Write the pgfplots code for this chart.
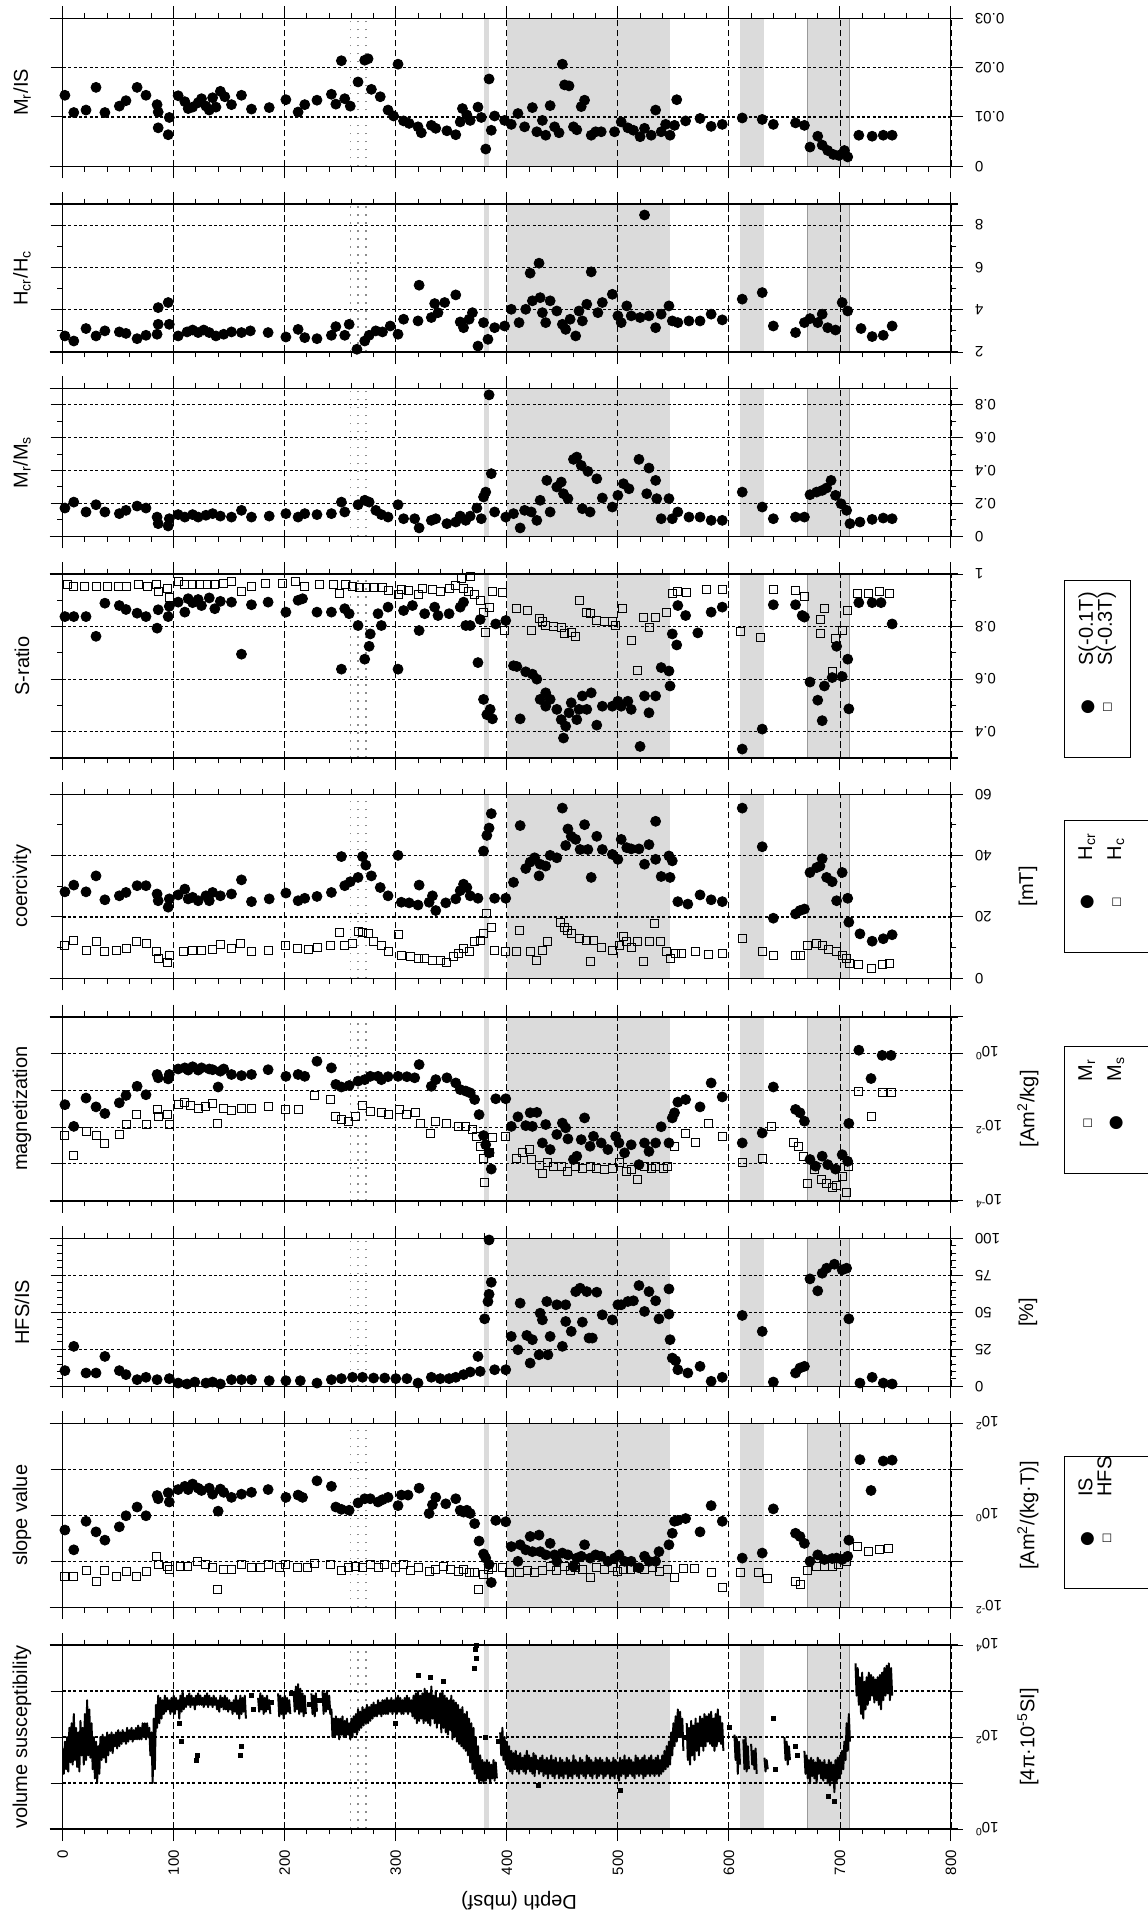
\documentclass[border=0pt]{standalone}
\usepackage{fontspec}
\setmainfont{Liberation Sans}
\newfontfamily\dejavu{DejaVu Sans}
\usepackage{pgfplots}
\pgfplotsset{compat=1.18}

\newcommand\tickfont{\fontsize{7.5}{9}\selectfont}
\newcommand\labfont{\fontsize{10}{12}\selectfont}
\colorlet{bandc}{black!14}

% legend keys, written as glyphs
\newcommand\dotglyph{\raisebox{0.3pt}{\dejavu\fontsize{8.5}{8.5}\selectfont ●}}
\newcommand\boxglyph{\raisebox{0.8pt}{\dejavu\fontsize{5.5}{5.5}\selectfont □}}
\newcommand\legline[2]{\hspace*{25pt}\makebox[0pt]{#1}\hspace*{21pt}#2\hspace*{6pt}}

% shaded depth intervals and dotted marker lines (x in rel axis units, depth/800)
\newcommand\bands{%
  \fill[bandc] (rel axis cs:0.47375,0) rectangle (rel axis cs:0.48,1);
  \fill[bandc] (rel axis cs:0.5,0) rectangle (rel axis cs:0.68375,1);
  \fill[bandc] (rel axis cs:0.7625,0) rectangle (rel axis cs:0.79,1);
  \filldraw[fill=bandc, draw=black!40, line width=0.5pt] (rel axis cs:0.83875,0) rectangle (rel axis cs:0.88625,1);
  \draw[black!45, line width=0.7pt, dash pattern=on 0.8pt off 3.2pt] (rel axis cs:0.32375,0) -- (rel axis cs:0.32375,1);
  \draw[black!45, line width=0.7pt, dash pattern=on 0.8pt off 3.2pt] (rel axis cs:0.3325,0) -- (rel axis cs:0.3325,1);
  \draw[black!45, line width=0.7pt, dash pattern=on 0.8pt off 3.2pt] (rel axis cs:0.34125,0) -- (rel axis cs:0.34125,1);
}

\tikzset{legbox/.style={draw, line width=0.5pt, rotate=90, anchor=north west, align=left,
  inner xsep=0pt, inner ysep=7pt, font=\fontsize{10}{9.5}\selectfont}}

\pgfplotsset{
  panel/.style={
    scale only axis, width=444.15pt, xmin=0, xmax=800,
    anchor=north west, axis on top, clip mode=individual,
    scaled y ticks=false, scaled x ticks=false,
    xtick={0,100,...,800}, minor x tick num=4, xticklabels={},
    xtick pos=both, yticklabel pos=right, ytick pos=both,
    tick align=outside, major tick length=6pt, minor tick length=2.7pt,
    tick style={black, line width=0.5pt},
    axis line style={line width=0.5pt},
    xmajorgrids, ymajorgrids,
    major x grid style={black, line width=0.45pt, dash pattern=on 3.3pt off 1.7pt},
    major y grid style={black, line width=0.55pt, dash pattern=on 1.5pt off 1.2pt},
    yticklabel style={font=\tickfont, rotate=180, anchor=east},
    yticklabel shift=2.5pt,
    every axis y label/.style={at={(axis description cs:-0.0458,0.5)}, rotate=90, anchor=center, font=\labfont},
    after end axis/.code={
      \draw[line width=0.8pt] (rel axis cs:-0.0146,0) -- (rel axis cs:1.008,0);
      \draw[line width=0.8pt] (rel axis cs:-0.0146,1) -- (rel axis cs:1.008,1);
    },
  },
  small/.style={height=74pt},
  big/.style={height=92pt},
  dots/.style={only marks, mark=*, mark size=2.5pt, black},
  boxes/.style={only marks, mark=square, mark size=2pt, black, mark options={line width=0.45pt}},
}

\begin{document}
\begin{tikzpicture}
\useasboundingbox (-31.35pt,0pt) rectangle (542.15pt,-958.5pt);

% ---------------- M_r/IS
\begin{axis}[panel, small, at={(0pt,-9.15pt)},
  ymin=0, ymax=0.03, ytick={0,0.01,0.02,0.03}, yticklabels={0,0.01,0.02,0.03},
  ylabel={M\textsubscript{r}/IS}]
\bands
\addplot[dots] coordinates {(2,0.0144)(10,0.0109)(21,0.0114)(30,0.016)(38,0.0109)(51,0.0122)(57,0.0133)(67,0.016)(75,0.0144)(85,0.0125)(86,0.011)(86,0.0078)(95,0.0064)(96,0.0099)(104,0.0143)(110,0.0131)(113,0.0117)(117,0.012)(122,0.0129)(125,0.0137)(129,0.0122)(132,0.0114)(135,0.0139)(138,0.012)(142,0.0152)(146,0.0141)(152,0.0125)(161,0.0144)(170,0.0116)(186,0.0119)(201,0.0135)(212,0.011)(218,0.0125)(229,0.0134)(242,0.0146)(246,0.0126)(251,0.0214)(254,0.0137)(259,0.0122)(266,0.0171)(272,0.0215)(275,0.0218)(278,0.0156)(286,0.0141)(293,0.0114)(298,0.0102)(302,0.0207)(307,0.0092)(312,0.0087)(320,0.008)(323,0.0068)(332,0.0083)(336,0.0077)(346,0.0072)(354,0.0064)(358,0.009)(360,0.0117)(364,0.0104)(367,0.0093)(374,0.012)(377,0.0099)(381,0.0035)(384,0.0177)(386,0.0073)(389,0.0102)(398,0.0093)(404,0.0085)(410,0.0107)(416,0.008)(423,0.0119)(427,0.007)(432,0.0093)(435,0.0063)(439,0.0123)(443,0.008)(447,0.0068)(450,0.0207)(452,0.0165)(456,0.0163)(460,0.008)(463,0.0074)(467,0.0121)(470,0.0134)(476,0.0063)(480,0.007)(485,0.007)(497,0.007)(503,0.009)(509,0.0078)(514,0.0073)(520,0.006)(524,0.0077)(530,0.0063)(534,0.0114)(539,0.007)(543,0.0085)(547,0.0063)(551,0.0083)(553,0.0135)(561,0.0092)(574,0.0097)(584,0.0081)(594,0.0085)(612,0.0098)(630,0.0095)(640,0.0085)(660,0.0088)(668,0.0083)(673,0.0039)(680,0.0061)(684,0.0043)(689,0.0032)(694,0.0024)(699,0.0022)(704,0.0032)(707,0.0019)(717,0.0063)(729,0.0061)(739,0.0063)(747,0.0063)};
\end{axis}

% ---------------- H_cr/H_c
\begin{axis}[panel, small, at={(0pt,-102pt)},
  ymin=2, ymax=9, ytick={2,4,6,8}, yticklabels={2,4,6,8}, minor ytick={3,5,7,9},
  ylabel={H\textsubscript{cr}/H\textsubscript{c}}]
\bands
\addplot[dots] coordinates {(2,2.76)(10,2.52)(21,3.11)(30,2.76)(38,3.0)(51,2.95)(57,2.88)(67,2.63)(75,2.79)(85,2.84)(86,3.31)(86,4.1)(95,4.34)(96,3.31)(104,2.76)(112,2.95)(117,3.04)(122,2.92)(127,3.04)(132,2.92)(138,2.76)(145,2.84)(152,2.95)(161,2.92)(169,3.0)(185,2.92)(201,2.71)(212,3.07)(218,2.68)(229,2.63)(242,2.79)(246,3.2)(254,2.79)(258,3.31)(265,2.13)(272,2.52)(276,2.79)(282,3.0)(288,2.95)(295,3.23)(302,2.84)(307,3.55)(320,3.47)(321,5.16)(332,3.63)(335,4.29)(338,3.86)(344,4.34)(354,4.7)(358,3.42)(361,3.15)(366,3.55)(369,3.86)(374,2.28)(379,3.39)(383,2.6)(389,3.15)(398,3.23)(404,4.02)(411,3.39)(417,4.02)(421,5.73)(423,4.42)(429,6.2)(430,4.57)(432,3.86)(435,3.39)(439,4.42)(445,3.94)(450,3.31)(453,3.07)(457,3.55)(462,2.76)(465,3.94)(468,3.47)(472,4.26)(476,5.79)(482,3.86)(486,4.34)(495,4.73)(500,3.71)(503,3.39)(508,4.18)(512,3.71)(520,3.63)(524,8.48)(528,3.71)(534,3.15)(539,3.79)(546,4.18)(549,3.47)(554,3.39)(564,3.47)(574,3.47)(584,3.79)(594,3.52)(612,4.5)(630,4.81)(640,3.23)(660,2.92)(668,3.39)(673,3.58)(680,3.39)(684,3.79)(689,3.15)(696,3.04)(702,4.34)(707,3.94)(719,3.11)(729,2.73)(739,2.79)(747,3.23)};
\end{axis}

% ---------------- M_r/M_s
\begin{axis}[panel, small, at={(0pt,-194.15pt)},
  ymin=0, ymax=0.9, ytick={0,0.2,0.4,0.6,0.8}, yticklabels={0,0.2,0.4,0.6,0.8},
  minor ytick={0.1,0.3,0.5,0.7,0.9},
  ylabel={M\textsubscript{r}/M\textsubscript{s}}]
\bands
\addplot[dots] coordinates {(2,0.172)(10,0.208)(21,0.148)(30,0.192)(38,0.148)(51,0.138)(57,0.158)(67,0.184)(75,0.172)(85,0.117)(86,0.077)(95,0.063)(96,0.107)(104,0.132)(110,0.117)(117,0.132)(122,0.117)(129,0.128)(135,0.138)(142,0.123)(152,0.117)(161,0.158)(170,0.117)(186,0.123)(201,0.138)(212,0.117)(218,0.138)(229,0.132)(242,0.138)(251,0.208)(254,0.148)(266,0.192)(272,0.219)(276,0.208)(282,0.158)(287,0.132)(293,0.117)(302,0.192)(307,0.107)(317,0.107)(321,0.051)(332,0.097)(336,0.107)(346,0.077)(354,0.087)(358,0.123)(363,0.097)(367,0.123)(373,0.172)(377,0.107)(379,0.239)(381,0.269)(384,0.86)(386,0.381)(389,0.148)(399,0.117)(406,0.138)(412,0.051)(416,0.158)(422,0.148)(427,0.097)(430,0.219)(436,0.34)(439,0.148)(445,0.3)(449,0.33)(451,0.259)(455,0.229)(460,0.468)(463,0.482)(467,0.431)(468,0.168)(473,0.395)(475,0.148)(481,0.35)(486,0.233)(495,0.178)(500,0.249)(505,0.32)(510,0.289)(519,0.468)(528,0.415)(526,0.259)(534,0.34)(535,0.229)(539,0.107)(546,0.229)(549,0.107)(554,0.148)(564,0.117)(574,0.117)(584,0.097)(594,0.097)(612,0.269)(630,0.178)(640,0.107)(660,0.117)(668,0.117)(673,0.253)(679,0.269)(684,0.279)(688,0.294)(692,0.34)(696,0.249)(701,0.198)(706,0.158)(709,0.077)(718,0.087)(729,0.103)(739,0.111)(747,0.107)};
\end{axis}

% ---------------- S-ratio
\begin{axis}[panel, big, at={(0pt,-287pt)},
  ymin=0.3, ymax=1, ytick={0.4,0.6,0.8,1}, yticklabels={0.4,0.6,0.8,1},
  minor ytick={0.3,0.5,0.7,0.9},
  ylabel={S-ratio}]
\bands
\node[legbox] at (rel axis cs:1.1272,0) {\legline{\dotglyph}{S(-0.1T)}\\ \legline{\boxglyph}{S(-0.3T)}};
\addplot[dots] coordinates {(2,0.838)(10,0.838)(21,0.838)(30,0.763)(38,0.889)(51,0.88)(57,0.865)(67,0.851)(75,0.838)(85,0.794)(86,0.864)(95,0.838)(96,0.877)(104,0.893)(110,0.855)(113,0.906)(117,0.891)(122,0.903)(125,0.88)(132,0.909)(137,0.868)(142,0.896)(152,0.893)(161,0.695)(170,0.883)(185,0.893)(201,0.855)(212,0.9)(216,0.906)(229,0.855)(242,0.855)(251,0.638)(254,0.868)(258,0.849)(266,0.804)(272,0.676)(276,0.725)(277,0.772)(284,0.849)(287,0.804)(293,0.874)(302,0.638)(307,0.861)(315,0.88)(321,0.785)(326,0.849)(335,0.874)(338,0.842)(348,0.849)(358,0.874)(361,0.893)(363,0.804)(367,0.804)(374,0.663)(376,0.827)(379,0.523)(382,0.465)(385,0.485)(387,0.449)(390,0.81)(399,0.823)(406,0.651)(409,0.648)(412,0.449)(417,0.628)(423,0.619)(427,0.6)(430,0.523)(435,0.548)(435,0.497)(439,0.523)(445,0.485)(449,0.446)(451,0.376)(453,0.421)(456,0.472)(458,0.51)(463,0.446)(465,0.485)(468,0.536)(472,0.485)(476,0.548)(481,0.425)(486,0.497)(495,0.497)(500,0.516)(503,0.497)(509,0.516)(512,0.485)(520,0.344)(524,0.536)(528,0.472)(534,0.536)(539,0.644)(546,0.631)(547,0.574)(549,0.772)(553,0.73)(554,0.88)(561,0.842)(572,0.776)(584,0.855)(594,0.874)(612,0.334)(630,0.41)(640,0.883)(660,0.883)(666,0.842)(668,0.836)(673,0.589)(680,0.52)(684,0.442)(686,0.574)(693,0.606)(697,0.725)(702,0.61)(707,0.676)(708,0.487)(717,0.891)(729,0.891)(737,0.891)(747,0.81)};
\addplot[boxes] coordinates {(4,0.96)(10,0.953)(20,0.951)(30,0.951)(40,0.953)(50,0.951)(57,0.953)(68,0.96)(76,0.953)(84,0.96)(86,0.932)(94,0.944)(96,0.912)(104,0.97)(110,0.96)(117,0.96)(123,0.96)(130,0.96)(137,0.96)(145,0.963)(152,0.97)(161,0.932)(170,0.951)(183,0.963)(198,0.963)(210,0.97)(218,0.953)(231,0.96)(244,0.96)(249,0.925)(255,0.96)(261,0.951)(267,0.948)(274,0.948)(280,0.948)(288,0.948)(293,0.938)(302,0.921)(305,0.942)(311,0.938)(320,0.921)(324,0.944)(333,0.942)(340,0.932)(348,0.944)(354,0.957)(359,0.983)(361,0.944)(365,0.932)(367,0.989)(371,0.921)(376,0.9)(379,0.855)(381,0.776)(384,0.874)(387,0.932)(396,0.929)(398,0.785)(409,0.868)(419,0.861)(422,0.785)(429,0.832)(432,0.819)(435,0.804)(442,0.8)(449,0.797)(452,0.772)(458,0.778)(462,0.763)(465,0.9)(472,0.855)(475,0.849)(481,0.823)(488,0.819)(495,0.819)(498,0.804)(504,0.868)(512,0.746)(518,0.635)(523,0.836)(528,0.797)(534,0.836)(544,0.855)(549,0.925)(554,0.932)(562,0.928)(580,0.942)(594,0.942)(610,0.781)(628,0.759)(640,0.942)(660,0.938)(668,0.916)(682,0.829)(686,0.868)(682,0.772)(693,0.628)(696,0.753)(702,0.785)(707,0.861)(716,0.925)(726,0.925)(736,0.932)(745,0.925)};
\end{axis}

% ---------------- coercivity
\begin{axis}[panel, big, at={(0pt,-397.15pt)},
  ymin=0, ymax=60, ytick={0,20,40,60}, yticklabels={0,20,40,60}, minor ytick={10,30,50},
  ylabel={coercivity}]
\bands
\node[rotate=90, font=\labfont] at (rel axis cs:1.0867,0.5) {[mT]};
\node[legbox] at (rel axis cs:1.1272,0.14) {\legline{\dotglyph}{H\textsubscript{cr}}\\[5pt] \legline{\boxglyph}{H\textsubscript{c}}\\[2pt] \mbox{}};
\addplot[dots] coordinates {(2,28.2)(10,30.4)(21,28.2)(30,33.4)(38,25.6)(51,26.9)(57,28.0)(67,30.2)(75,30.2)(85,27.5)(86,25.3)(95,23.2)(96,25.9)(104,27.2)(110,29.1)(113,25.9)(117,26.4)(122,25.3)(129,26.9)(132,25.3)(135,28.0)(142,26.9)(152,27.5)(161,32.1)(170,25.0)(186,25.9)(201,27.8)(212,25.3)(218,26.1)(229,26.7)(242,28.0)(251,39.7)(254,30.2)(259,31.5)(266,32.9)(270,39.7)(273,36.9)(278,33.4)(286,29.6)(293,26.9)(302,40.1)(305,24.8)(312,24.6)(320,23.9)(321,30.4)(330,24.8)(333,26.9)(336,22.1)(345,24.6)(354,25.9)(358,28.6)(361,30.7)(364,29.6)(367,26.9)(374,26.1)(379,41.5)(382,46.6)(384,49.0)(386,53.7)(389,26.1)(399,26.1)(406,31.3)(412,49.8)(417,35.8)(421,37.9)(425,39.3)(429,33.4)(430,37.2)(435,36.6)(439,40.1)(445,39.3)(450,55.5)(453,43.3)(455,48.7)(458,46.3)(462,45.3)(466,42.0)(470,50.1)(473,42.0)(476,32.9)(481,46.3)(486,42.0)(495,40.4)(500,38.8)(503,45.3)(508,42.6)(512,42.2)(519,42.2)(524,37.2)(528,43.6)(534,51.2)(534,38.8)(539,33.2)(546,39.9)(549,38.3)(547,32.9)(554,25.0)(563,24.2)(574,27.2)(584,25.6)(594,25.0)(612,55.5)(630,42.9)(640,19.6)(660,21.0)(664,22.1)(668,22.6)(673,34.5)(679,36.1)(684,39.0)(682,36.6)(688,32.9)(693,31.5)(697,25.3)(702,34.5)(707,26.1)(708,18.3)(718,14.5)(729,12.1)(739,12.9)(747,14.2)};
\addplot[boxes] coordinates {(2,10.8)(10,12.4)(21,9.2)(30,12.1)(38,8.8)(48,9.2)(57,9.9)(66,11.9)(75,11.3)(84,8.8)(86,6.5)(94,5.2)(96,7.5)(109,8.8)(117,9.2)(125,9.2)(135,9.5)(142,11.0)(152,9.9)(160,11.3)(170,8.8)(185,9.2)(201,10.6)(211,9.9)(221,9.5)(229,10.2)(241,10.8)(249,14.8)(254,10.6)(261,11.3)(266,15.3)(270,15.1)(275,14.5)(280,11.9)(287,10.6)(293,8.8)(302,14.2)(305,7.3)(313,7.0)(320,6.5)(326,6.5)(333,5.9)(340,5.9)(346,5.2)(352,7.0)(356,8.1)(361,9.7)(366,8.6)(371,11.9)(376,12.4)(379,14.5)(382,21.0)(386,16.7)(389,9.2)(399,8.8)(409,8.8)(411,15.6)(421,8.8)(427,5.9)(432,9.2)(437,11.9)(448,18.3)(452,16.7)(455,15.6)(458,14.5)(465,12.9)(472,12.4)(475,5.4)(478,12.4)(485,10.2)(495,9.2)(501,10.8)(505,13.5)(508,11.9)(512,10.2)(518,11.9)(523,5.4)(528,11.9)(533,17.8)(538,11.9)(544,8.8)(547,6.5)(552,8.1)(557,8.1)(570,8.8)(582,7.8)(594,8.1)(612,12.9)(630,8.6)(640,7.5)(660,7.5)(664,7.3)(671,10.6)(679,11.3)(684,10.8)(690,9.5)(697,8.8)(702,7.5)(706,6.5)(709,4.8)(717,4.5)(728,3.2)(738,4.5)(745,4.8)};
\end{axis}

% ---------------- magnetization (log10 values)
\begin{axis}[panel, big, at={(0pt,-508.35pt)},
  ymin=-4, ymax=1, ytick={-4,-3,-2,-1,0,1},
  yticklabels={10\textsuperscript{-4},,10\textsuperscript{-2},,10\textsuperscript{0},},
  ylabel={magnetization}]
\bands
\node[rotate=90, font=\labfont] at (rel axis cs:1.0867,0.5) {[Am\textsuperscript{2}/kg]};
\node[legbox] at (rel axis cs:1.1272,0.1465) {\legline{\boxglyph}{M\textsubscript{r}}\\[5pt] \legline{\dotglyph}{M\textsubscript{s}}\\[2pt] \mbox{}};
\addplot[boxes] coordinates {(2,-2.22)(10,-2.77)(21,-2.11)(30,-2.23)(38,-2.45)(51,-2.2)(57,-1.93)(66,-1.66)(75,-1.93)(85,-1.52)(86,-1.7)(94,-1.66)(96,-1.93)(104,-1.39)(110,-1.34)(115,-1.41)(122,-1.48)(129,-1.43)(135,-1.36)(139,-1.89)(145,-1.48)(152,-1.54)(161,-1.48)(170,-1.48)(185,-1.45)(201,-1.52)(212,-1.52)(227,-1.14)(241,-1.25)(246,-1.7)(251,-1.79)(257,-1.84)(264,-1.7)(270,-1.41)(277,-1.57)(287,-1.61)(293,-1.66)(303,-1.52)(310,-1.66)(318,-1.61)(322,-1.89)(331,-2.16)(336,-1.84)(346,-1.89)(356,-1.98)(363,-1.98)(369,-2.07)(373,-2.25)(376,-2.52)(379,-2.86)(380,-3.5)(384,-2.7)(387,-2.29)(399,-2.25)(409,-2.86)(414,-2.7)(420,-2.61)(422,-2.88)(429,-3.05)(432,-3.25)(437,-2.96)(442,-3.06)(449,-3.06)(455,-3.2)(462,-3.06)(468,-3.11)(475,-3.08)(481,-3.11)(488,-3.15)(495,-3.11)(501,-2.97)(508,-3.2)(512,-3.14)(518,-3.43)(524,-3.06)(530,-3.11)(534,-3.06)(541,-3.11)(545,-3.06)(551,-2.52)(561,-2.18)(570,-2.43)(582,-1.9)(594,-2.25)(612,-2.97)(630,-2.86)(638,-1.98)(658,-2.43)(663,-2.52)(667,-2.79)(671,-3.52)(677,-3.15)(683,-3.43)(688,-3.52)(693,-3.65)(697,-3.59)(702,-3.34)(706,-3.77)(708,-3.06)(717,-1.02)(728,-1.7)(738,-1.07)(746,-1.07)};
\addplot[dots] coordinates {(2,-1.39)(10,-1.98)(21,-1.21)(30,-1.45)(38,-1.63)(51,-1.34)(57,-1.14)(67,-0.89)(75,-1.12)(85,-0.57)(86,-0.66)(95,-0.69)(96,-0.57)(104,-0.42)(110,-0.39)(113,-0.45)(117,-0.36)(122,-0.45)(125,-0.39)(132,-0.42)(135,-0.44)(140,-0.91)(142,-0.48)(145,-0.42)(152,-0.57)(161,-0.6)(170,-0.57)(185,-0.44)(201,-0.62)(212,-0.57)(218,-0.62)(229,-0.21)(242,-0.39)(246,-0.84)(251,-0.91)(258,-0.87)(266,-0.75)(272,-0.71)(277,-0.62)(284,-0.62)(287,-0.71)(293,-0.63)(302,-0.62)(310,-0.63)(317,-0.66)(321,-0.3)(332,-0.89)(336,-0.71)(346,-0.66)(354,-0.8)(358,-0.98)(363,-1.02)(367,-1.07)(371,-1.25)(375,-1.66)(379,-2.23)(381,-2.48)(384,-2.7)(386,-3.14)(390,-1.23)(399,-1.23)(404,-1.98)(410,-1.72)(417,-1.96)(421,-1.61)(423,-1.98)(427,-1.6)(432,-2.43)(435,-1.93)(439,-2.61)(445,-2.2)(450,-1.89)(453,-2.02)(455,-2.32)(460,-2.88)(463,-2.79)(467,-2.34)(470,-1.75)(475,-2.52)(478,-2.25)(485,-2.43)(491,-2.61)(498,-2.25)(501,-2.43)(506,-2.7)(512,-2.48)(519,-3.02)(524,-2.43)(528,-2.66)(534,-2.43)(539,-1.99)(546,-2.43)(549,-1.75)(551,-1.61)(554,-1.32)(561,-1.25)(574,-1.45)(584,-0.8)(594,-1.18)(612,-2.43)(630,-2.16)(640,-0.91)(660,-1.52)(664,-1.61)(668,-1.84)(673,-2.88)(678,-3.06)(684,-2.79)(689,-3.02)(696,-3.14)(702,-2.75)(707,-2.93)(708,-1.9)(717,0.09)(728,-0.68)(738,-0.05)(746,-0.05)};
\end{axis}

% ---------------- HFS/IS
\begin{axis}[panel, small, at={(0pt,-619.15pt)},
  ymin=0, ymax=100, ytick={0,25,50,75,100}, yticklabels={0,25,50,75,100},
  minor ytick={5,10,15,20,30,35,40,45,55,60,65,70,80,85,90,95},
  ylabel={HFS/IS}]
\bands
\node[rotate=90, font=\labfont] at (rel axis cs:1.0867,0.5) {[\%]};
\addplot[dots] coordinates {(2,10.6)(10,27.0)(21,9.0)(30,9.0)(38,20.2)(51,10.6)(57,7.9)(67,4.5)(75,6.1)(85,4.5)(96,5.2)(104,2.2)(112,1.6)(119,2.9)(129,2.2)(135,2.9)(142,1.6)(152,4.5)(161,4.5)(170,4.5)(186,3.8)(201,3.8)(214,3.8)(229,2.2)(242,4.5)(251,5.2)(261,6.1)(270,6.1)(280,5.6)(290,5.6)(300,5.2)(310,5.2)(320,2.2)(332,6.1)(340,5.2)(348,5.2)(354,6.1)(361,7.9)(367,9.7)(374,20.2)(376,10.1)(380,45.6)(383,57.3)(384,62.2)(386,70.3)(384,98.9)(389,11.2)(399,11.2)(404,33.7)(410,24.7)(412,56.2)(418,34.4)(421,15.7)(423,31.5)(429,21.3)(430,49.4)(432,44.9)(436,57.3)(437,21.3)(439,33.7)(445,55.1)(450,27.0)(453,55.1)(453,43.8)(458,37.1)(462,64.0)(466,66.3)(468,43.4)(472,64.0)(474,32.6)(477,32.6)(481,63.6)(486,48.3)(495,44.9)(500,55.1)(503,55.1)(509,57.3)(514,57.8)(519,68.1)(524,50.6)(528,64.0)(534,57.8)(537,45.6)(546,65.8)(546,48.8)(547,31.5)(549,19.1)(552,17.3)(554,11.2)(563,9.0)(574,13.5)(584,3.4)(594,6.1)(612,47.9)(630,37.1)(640,2.9)(660,9.0)(664,12.4)(668,13.5)(673,72.6)(680,64.5)(684,76.4)(688,79.8)(695,82.5)(702,78.7)(706,79.8)(708,45.6)(718,2.2)(729,6.1)(739,2.2)(747,1.6)};
\end{axis}

% ---------------- slope value (log10 values)
\begin{axis}[panel, big, at={(0pt,-711.65pt)},
  ymin=-2, ymax=2, ytick={-2,-1,0,1,2},
  yticklabels={10\textsuperscript{-2},,10\textsuperscript{0},,10\textsuperscript{2}},
  ylabel={slope value}]
\bands
\node[rotate=90, font=\labfont] at (rel axis cs:1.0867,0.5) {[Am\textsuperscript{2}/(kg·T)]};
\node[legbox] at (rel axis cs:1.1272,0.099) {\legline{\dotglyph}{IS}\\ \legline{\boxglyph}{HFS}\\[2pt] \mbox{}};
\addplot[dots] coordinates {(2,-0.32)(10,-0.75)(21,-0.13)(30,-0.36)(38,-0.54)(51,-0.25)(57,-0.01)(67,0.18)(75,-0.01)(85,0.43)(86,0.36)(95,0.49)(96,0.29)(104,0.56)(110,0.63)(113,0.56)(117,0.68)(122,0.59)(125,0.54)(132,0.59)(135,0.46)(140,0.09)(142,0.57)(145,0.5)(152,0.39)(161,0.46)(170,0.5)(185,0.56)(201,0.39)(212,0.44)(216,0.39)(229,0.75)(242,0.63)(246,0.18)(251,0.13)(258,0.11)(266,0.27)(272,0.36)(277,0.36)(284,0.29)(288,0.34)(293,0.39)(302,0.21)(305,0.44)(311,0.44)(321,0.59)(330,0.04)(333,0.23)(336,0.39)(345,0.25)(354,0.36)(358,0.11)(361,0.07)(364,0.11)(367,0.04)(371,-0.18)(375,-0.56)(379,-0.84)(381,-0.93)(384,-1.07)(386,-1.46)(390,-0.11)(399,-0.14)(404,-0.68)(410,-1.0)(412,-0.64)(417,-0.75)(421,-0.46)(423,-0.79)(429,-0.43)(430,-0.79)(435,-0.86)(439,-0.61)(443,-0.86)(445,-1.0)(450,-0.82)(455,-0.86)(460,-1.11)(463,-0.93)(467,-0.89)(470,-0.64)(475,-0.93)(480,-0.86)(485,-0.89)(491,-1.0)(497,-0.93)(501,-0.86)(506,-1.0)(512,-1.0)(519,-1.14)(524,-0.89)(528,-1.0)(534,-1.0)(537,-0.79)(546,-0.64)(549,-0.39)(551,-0.13)(554,-0.11)(561,-0.07)(574,-0.36)(584,0.21)(594,-0.13)(612,-0.93)(630,-0.82)(640,0.14)(660,-0.39)(664,-0.46)(668,-0.61)(673,-1.0)(680,-0.86)(686,-0.96)(693,-0.94)(697,-0.93)(702,-0.96)(707,-0.89)(708,-0.54)(718,1.21)(728,0.54)(739,1.18)(747,1.2)};
\addplot[boxes] coordinates {(2,-1.32)(10,-1.32)(21,-1.2)(30,-1.43)(38,-1.2)(48,-1.32)(57,-1.21)(66,-1.32)(75,-1.23)(84,-0.89)(86,-1.07)(94,-1.11)(96,-1.18)(106,-1.11)(112,-1.11)(121,-1.0)(129,-1.07)(135,-1.14)(139,-1.61)(145,-1.18)(152,-1.18)(161,-1.06)(170,-1.14)(178,-1.14)(185,-1.06)(195,-1.14)(201,-1.06)(211,-1.14)(220,-1.14)(227,-1.04)(241,-1.06)(251,-1.2)(257,-1.14)(264,-1.11)(270,-1.14)(277,-1.07)(284,-1.14)(290,-1.07)(300,-1.14)(307,-1.06)(313,-1.2)(320,-1.14)(330,-1.21)(336,-1.18)(343,-1.11)(349,-1.18)(356,-1.21)(361,-1.18)(366,-1.25)(371,-1.25)(374,-1.61)(379,-1.29)(383,-1.18)(387,-1.14)(396,-1.14)(402,-1.25)(411,-1.25)(419,-1.2)(425,-1.25)(432,-1.2)(439,-1.11)(445,-1.2)(452,-1.11)(457,-1.2)(462,-1.14)(468,-1.18)(475,-1.36)(481,-1.14)(488,-1.18)(495,-1.14)(500,-1.21)(505,-1.18)(511,-1.18)(518,-1.14)(524,-1.18)(531,-1.14)(537,-1.23)(545,-1.18)(551,-1.36)(559,-1.16)(569,-1.16)(584,-1.25)(594,-1.56)(610,-1.25)(627,-1.25)(635,-1.37)(660,-1.43)(664,-1.51)(671,-1.2)(679,-1.11)(686,-1.11)(693,-1.11)(699,-1.07)(706,-1.0)(716,-0.68)(726,-0.79)(736,-0.75)(744,-0.73)};
\end{axis}

% ---------------- volume susceptibility (log10 values)
\begin{axis}[panel, big, at={(0pt,-822.5pt)},
  ymin=0, ymax=4, ytick={0,1,2,3,4},
  yticklabels={10\textsuperscript{0},,10\textsuperscript{2},,10\textsuperscript{4}},
  ylabel={volume susceptibility},
  xticklabels={0,100,200,300,400,500,600,700,800},
  xticklabel style={font=\tickfont, rotate=90, anchor=east}, xticklabel shift=1pt,
  xlabel={Depth (mbsf)},
  every axis x label/.style={at={(axis description cs:0.5137,-0.387)}, anchor=center, rotate=180, font=\labfont}]
\bands
\node[rotate=90, font=\labfont] at (rel axis cs:1.0867,0.5) {[4π·10\textsuperscript{-5}SI]};
\addplot[black, line width=1pt, line join=round, unbounded coords=jump] coordinates {
(0,1.75)(1,1.2)(2,1.9)(3,1.3)(4,2.0)(5,1.25)(6,2.2)(7,1.45)(8,2.3)(9,1.4)(10,2.5)(11,1.5)(12,2.2)(13,1.35)(14,2.1)(15,1.25)(16,2.35)(17,1.6)(18,2.2)(19,1.4)(20,2.5)(21,1.5)(22,2.8)(23,1.6)(24,2.6)(25,1.55)(26,2.3)(27,1.3)(28,2.0)(29,1.1)(30,1.9)(31,1.0)(32,1.8)(33,1.2)(34,2.0)(35,1.5)(36,2.05)(37,1.55)(38,2.0)(39,1.45)
(40,2.1)(41,1.6)(42,2.05)(43,1.7)(44,2.1)(45,1.65)(46,2.05)(47,1.8)(48,2.1)(49,1.75)(50,2.15)(51,1.8)(52,2.1)(53,1.85)(54,2.15)(55,1.9)(56,2.1)(57,1.85)(58,2.2)(59,1.9)(60,2.15)(61,1.95)(62,2.2)(63,1.9)(64,2.15)(65,1.95)(66,2.2)(67,1.95)(68,2.25)(69,1.95)(70,2.2)(71,1.95)(72,2.3)(73,2.0)(74,2.3)(75,1.95)(76,2.3)(77,2.0)(78,2.2)(79,1.6)
(80,2.1)(81,1.0)(82,2.4)(83,1.3)(84,2.7)(85,2.2)(86,2.9)(87,2.3)(88,2.85)(89,2.4)(90,2.8)(91,2.5)(92,2.9)(93,2.55)(94,2.85)(95,2.6)(96,2.8)(97,2.5)(98,2.85)(99,2.55)(100,2.9)(101,2.5)(102,2.85)(103,2.6)(104,2.8)(105,2.4)(106,2.9)(107,2.55)(108,3.0)(109,2.6)(110,2.85)(111,2.65)(112,2.9)(113,2.7)(114,2.95)(115,2.65)(116,2.9)(117,2.7)(118,2.85)(119,2.6)
(120,2.9)(121,2.7)(122,2.95)(123,2.7)(124,2.9)(125,2.7)(126,2.85)(127,2.65)(128,2.9)(129,2.7)(130,2.95)(131,2.65)(132,2.9)(133,2.7)(134,2.85)(135,2.65)(136,2.9)(137,2.7)(138,2.85)(139,2.6)(140,2.8)(141,2.55)(142,2.9)(143,2.65)(144,2.85)(145,2.6)(146,2.9)(147,2.6)(148,2.85)(149,2.55)(150,2.8)(151,2.6)(152,2.75)(153,2.5)(154,2.8)(155,2.55)(156,2.9)(157,2.5)(158,2.8)(159,2.4)(160,2.9)(161,2.5)(162,2.85)(163,2.55)(164,2.9)(165,2.4)
(166,nan)
(176,2.85)(177,2.55)(178,2.95)(179,2.6)(180,2.9)(181,2.5)(182,2.85)(183,2.55)(184,2.9)(185,2.6)(186,2.8)(187,2.5)
(189,nan)
(194,2.95)(195,2.45)(196,2.9)(197,2.5)(198,2.85)(199,2.4)(200,2.9)(201,2.5)(202,2.85)(203,2.55)(204,2.8)(205,2.5)
(206.5,nan)
(208,3.0)(209,2.55)(210,3.1)(211,2.6)(212,3.15)(213,2.5)(214,3.05)(215,2.55)(216,2.95)(217,2.45)(218,2.9)(219,2.5)
(221,nan)
(224,2.95)(225,2.5)(226,2.9)(227,2.45)(228,2.95)(229,2.55)
(231,nan)
(234,3.0)(235,2.5)(236,2.95)(237,2.55)(238,3.0)(239,2.6)(240,2.9)(241,2.5)(242,2.6)(243,2.0)(244,2.4)(245,2.0)(246,2.45)(247,2.05)(248,2.4)(249,1.95)(250,2.4)(251,2.05)(252,2.45)(253,2.0)(254,2.35)(255,2.0)(256,2.4)(257,2.05)(258,2.3)(259,1.95)
(260,2.4)(261,2.0)(262,2.45)(263,2.1)(264,2.5)(265,2.05)(266,2.6)(267,2.15)(268,2.55)(269,2.2)(270,2.65)(271,2.25)(272,2.6)(273,2.3)(274,2.7)(275,2.3)(276,2.65)(277,2.35)(278,2.7)(279,2.4)(280,2.75)(281,2.45)(282,2.7)(283,2.45)(284,2.8)(285,2.5)(286,2.75)(287,2.45)(288,2.8)(289,2.5)(290,2.8)(291,2.5)(292,2.85)(293,2.5)(294,2.8)(295,2.55)(296,2.85)(297,2.5)(298,2.8)(299,2.55)
(300,2.85)(301,2.5)(302,2.9)(303,2.55)(304,2.85)(305,2.5)(306,2.8)(307,2.5)(308,2.85)(309,2.55)(310,2.9)(311,2.5)(312,2.85)(313,2.55)(314,2.8)(315,2.45)(316,2.9)(317,2.4)(318,2.95)(319,2.3)(320,3.0)(321,2.35)(322,2.9)(323,2.4)(324,2.95)(325,2.3)(326,3.05)(327,2.35)(328,3.0)(329,2.3)(330,2.95)(331,2.25)(332,3.1)(333,2.4)(334,2.9)(335,2.3)(336,3.0)(337,2.2)(338,2.85)(339,2.3)
(340,2.95)(341,2.1)(342,3.0)(343,2.2)(344,2.9)(345,2.1)(346,2.85)(347,2.05)(348,2.8)(349,2.15)(350,2.9)(351,1.95)(352,2.8)(353,2.0)(354,2.75)(355,1.9)(356,2.7)(357,1.85)(358,2.6)(359,1.8)(360,2.65)(361,1.75)(362,2.5)(363,1.7)(364,2.55)(365,1.6)(366,2.4)(367,1.45)(368,2.3)(369,1.3)(370,2.2)(371,1.2)(372,2.0)(373,1.1)(374,1.8)(375,1.0)(376,1.6)(377,1.05)(378,1.5)(379,1.0)(380,1.45)(381,1.05)(382,1.5)(383,1.1)(384,1.45)(385,1.0)(386,1.4)(387,1.1)(388,1.5)(389,1.05)(390,1.45)(391,1.1)
(392.5,nan)
(394,2.1)(395,1.6)(396,2.2)(397,1.5)(398,2.0)(399,1.4)(400,1.9)(401,1.3)(402,1.8)(403,1.25)(404,1.7)(405,1.2)(406,1.65)(407,1.3)(408,1.7)(409,1.25)(410,1.6)(411,1.2)(412,1.65)(413,1.3)(414,1.55)(415,1.25)(416,1.6)(417,1.2)(418,1.7)(419,1.3)(420,1.6)(421,1.25)(422,1.55)(423,1.2)(424,1.65)(425,1.15)(426,1.6)(427,1.3)(428,1.5)(429,1.2)(430,1.55)(431,1.25)(432,1.6)(433,1.15)(434,1.5)(435,1.2)(436,1.55)(437,1.1)(438,1.5)(439,1.2)
(440,1.6)(441,1.15)(442,1.5)(443,1.1)(444,1.55)(445,1.2)(446,1.45)(447,1.1)(448,1.55)(449,1.15)(450,1.5)(451,1.1)(452,1.45)(453,1.2)(454,1.55)(455,1.1)(456,1.5)(457,1.15)(458,1.45)(459,1.1)(460,1.6)(461,1.2)(462,1.5)(463,1.15)(464,1.45)(465,1.1)(466,1.55)(467,1.2)(468,1.5)(469,1.15)(470,1.45)(471,1.1)(472,1.6)(473,1.2)(474,1.55)(475,1.15)(476,1.5)(477,1.1)(478,1.45)(479,1.2)
(480,1.55)(481,1.1)(482,1.5)(483,1.15)(484,1.55)(485,1.2)(486,1.5)(487,1.1)(488,1.45)(489,1.15)(490,1.55)(491,1.2)(492,1.5)(493,1.1)(494,1.45)(495,1.15)(496,1.55)(497,1.1)(498,1.5)(499,1.2)(500,1.45)(501,1.05)(502,1.55)(503,1.15)(504,1.5)(505,1.2)(506,1.6)(507,1.1)(508,1.5)(509,1.15)(510,1.55)(511,1.2)(512,1.5)(513,1.15)(514,1.45)(515,1.1)(516,1.6)(517,1.2)(518,1.55)(519,1.15)
(520,1.5)(521,1.2)(522,1.55)(523,1.1)(524,1.6)(525,1.15)(526,1.5)(527,1.2)(528,1.55)(529,1.15)(530,1.6)(531,1.2)(532,1.5)(533,1.15)(534,1.55)(535,1.2)(536,1.6)(537,1.15)(538,1.5)(539,1.2)(540,1.6)(541,1.25)(542,1.7)(543,1.3)(544,1.8)(545,1.35)(546,1.9)(547,1.4)(548,2.1)(549,1.6)(550,2.3)(551,1.8)(552,2.45)(553,1.9)(554,2.6)(555,2.0)(556,2.55)(557,2.0)(558,2.4)(559,1.7)
(560.5,nan)
(562,2.3)(563,1.5)(564,2.2)(565,1.4)(566,2.35)(567,1.6)(568,2.25)(569,1.5)(570,2.4)(571,1.7)(572,2.3)(573,1.6)(574,2.45)(575,1.8)(576,2.4)(577,1.7)(578,2.5)(579,1.8)(580,2.45)(581,1.9)(582,2.5)(583,1.85)(584,2.55)(585,1.8)(586,2.4)(587,1.7)(588,2.5)(589,1.8)(590,2.6)(591,1.9)(592,2.45)(593,1.85)(594,2.3)(595,1.7)
(597,nan)
(605,2.05)(606,1.5)(607,2.0)(608,1.2)(609,1.9)(610,1.4)
(611.5,nan)
(613,1.95)(614,1.3)(615,2.0)(616,1.25)(617,1.8)(618,1.3)
(619,nan)
(620,1.85)(621,1.4)(622,1.7)(623,1.3)(624,1.75)(625,1.2)
(627,nan)
(632,1.55)(633,1.25)(634,1.5)(635,1.3)
(640,nan)
(650,2.0)(651,1.5)(652,1.9)(653,1.4)(654,1.8)(655,1.5)
(660,nan)
(668,1.7)(669,1.2)(670,1.6)(671,1.1)(672,1.5)(673,1.0)(674,1.55)(675,1.15)(676,1.5)(677,1.1)(678,1.45)(679,1.0)(680,1.55)(681,1.2)(682,1.5)(683,1.1)(684,1.45)(685,1.05)(686,1.5)(687,1.1)(688,1.4)(689,1.0)(690,1.5)(691,0.95)(692,1.45)(693,1.05)(694,1.4)(695,0.8)(696,1.5)(697,1.0)(698,1.55)(699,1.1)(700,1.6)(701,1.2)(702,1.7)(703,1.3)(704,1.9)(705,1.5)(706,2.3)(707,1.7)(708,2.5)(709,1.9)
(711,nan)
(714,3.6)(715,2.9)(716,3.5)(717,2.7)(718,3.3)(719,2.5)(720,3.4)(721,2.4)(722,3.2)(723,2.6)(724,3.3)(725,2.7)(726,3.4)(727,2.8)(728,3.35)(729,2.9)(730,3.3)(731,2.75)(732,3.25)(733,2.8)(734,3.3)(735,2.7)(736,3.35)(737,2.6)(738,3.4)(739,2.8)(740,3.5)(741,2.9)(742,3.55)(743,2.95)(744,3.6)(745,2.8)(746,3.5)(747,2.9)
};
\addplot[only marks, mark=square*, mark size=1pt, black] coordinates {(105,2.3)(107,1.9)(120,1.5)(121,1.6)(160,1.6)(161,1.8)(170,2.9)(172,2.6)(188,2.75)(206,2.95)(222,2.7)(231,2.8)(300,2.3)(320,3.35)(331,3.3)(343,3.2)(371,3.5)(372,3.9)(373,3.7)(373,4.0)(381,2.0)(392,1.9)(428,0.95)(502,0.85)(560,2.0)(600,2.2)(640,2.4)(642,1.3)(660,1.8)(662,1.6)(690,0.7)(695,0.6)};
\end{axis}
\end{tikzpicture}
\end{document}
